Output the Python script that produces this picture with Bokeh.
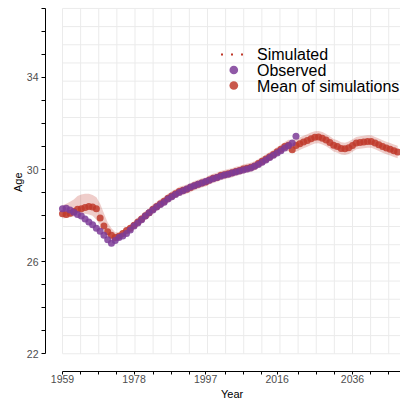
import math

from bokeh.plotting import figure
from bokeh.models import (ColumnDataSource, FixedTicker, Range1d, Label, Title)
from bokeh.embed import file_html
from bokeh.resources import INLINE

# ---- data -----------------------------------------------------------------
years_obs = list(range(1959, 2022))
observed = [
    28.30, 28.32, 28.25, 28.15, 28.05, 27.98, 27.85, 27.72, 27.60, 27.45,  # 1959-1968
    27.32, 27.15, 26.95, 26.80, 26.92, 27.05, 27.12, 27.22, 27.38, 27.55,  # 1969-1978
    27.68, 27.82, 27.98, 28.12, 28.25, 28.38, 28.48, 28.58, 28.72, 28.82,  # 1979-1988
    28.92, 29.00, 29.08, 29.16, 29.24, 29.30, 29.36, 29.42, 29.48, 29.54,  # 1989-1998
    29.60, 29.66, 29.71, 29.76, 29.80, 29.85, 29.89, 29.94, 29.98, 30.02,  # 1999-2008
    30.07, 30.14, 30.22, 30.32, 30.42, 30.52, 30.62, 30.72, 30.82, 30.94,  # 2009-2018
    31.04, 31.16, 31.45,                                                  # 2019-2021
]

years_sim = list(range(1959, 2049))
sim_mean = [
    28.08, 28.05, 28.10, 28.18, 28.28, 28.30, 28.35, 28.40, 28.38, 28.30,  # 1959-1968
    27.90, 27.55, 27.30, 27.15, 27.05, 27.10, 27.22, 27.35, 27.45, 27.58,  # 1969-1978
    27.72, 27.85, 28.00, 28.12, 28.28, 28.40, 28.52, 28.62, 28.75, 28.85,  # 1979-1988
    28.95, 29.05, 29.10, 29.15, 29.22, 29.30, 29.36, 29.42, 29.46, 29.55,  # 1989-1998
    29.62, 29.66, 29.74, 29.78, 29.82, 29.86, 29.92, 29.96, 30.02, 30.06,  # 1999-2008
    30.10, 30.16, 30.26, 30.36, 30.46, 30.56, 30.66, 30.78, 30.88, 31.00,  # 2009-2018
    31.06, 30.86, 31.05, 31.12, 31.20, 31.26, 31.34, 31.40, 31.41, 31.36,  # 2019-2028
    31.28, 31.18, 31.06, 31.00, 30.92, 30.90, 30.95, 31.05, 31.15, 31.18,  # 2029-2038
    31.20, 31.22, 31.22, 31.15, 31.08, 31.00, 30.94, 30.88, 30.82, 30.76,  # 2039-2048
]
sim_hi = [
    28.45, 28.52, 28.60, 28.70, 28.85, 28.92, 28.95, 28.95, 28.90, 28.80,  # 1959-1968
    28.52, 28.10, 27.70, 27.45, 27.28, 27.28, 27.38, 27.50, 27.62, 27.75,  # 1969-1978
    27.92, 28.05, 28.20, 28.32, 28.48, 28.60, 28.72, 28.82, 28.95, 29.05,  # 1979-1988
    29.15, 29.25, 29.30, 29.35, 29.42, 29.50, 29.56, 29.62, 29.66, 29.75,  # 1989-1998
    29.82, 29.86, 29.94, 29.98, 30.02, 30.06, 30.12, 30.16, 30.22, 30.26,  # 1999-2008
    30.30, 30.36, 30.46, 30.56, 30.66, 30.76, 30.86, 30.98, 31.08, 31.20,  # 2009-2018
    31.30, 31.28, 31.32, 31.39, 31.47, 31.53, 31.61, 31.67, 31.68, 31.63,  # 2019-2028
    31.55, 31.45, 31.33, 31.27, 31.19, 31.17, 31.22, 31.32, 31.42, 31.45,  # 2029-2038
    31.47, 31.49, 31.49, 31.42, 31.35, 31.27, 31.21, 31.15, 31.09, 31.03,  # 2039-2048
]
sim_lo = [
    27.88, 27.90, 27.93, 27.96, 28.02, 28.06, 28.08, 28.05, 28.00, 27.82,  # 1959-1968
    27.60, 27.36, 27.12, 26.95, 26.88, 26.92, 27.05, 27.18, 27.30, 27.42,  # 1969-1978
    27.52, 27.65, 27.80, 27.92, 28.08, 28.20, 28.32, 28.42, 28.55, 28.65,  # 1979-1988
    28.75, 28.85, 28.90, 28.95, 29.02, 29.10, 29.16, 29.22, 29.26, 29.35,  # 1989-1998
    29.42, 29.46, 29.54, 29.58, 29.62, 29.66, 29.72, 29.76, 29.82, 29.86,  # 1999-2008
    29.90, 29.96, 30.06, 30.16, 30.26, 30.36, 30.46, 30.58, 30.68, 30.80,  # 2009-2018
    30.80, 30.76, 30.78, 30.85, 30.93, 30.99, 31.07, 31.13, 31.14, 31.09,  # 2019-2028
    31.01, 30.91, 30.79, 30.73, 30.65, 30.63, 30.68, 30.78, 30.88, 30.91,  # 2029-2038
    30.93, 30.95, 30.95, 30.88, 30.81, 30.73, 30.67, 30.61, 30.55, 30.49,  # 2039-2048
]

x_tick_years = [1959, 1978, 1997, 2016, 2036]
y_tick_ages = [22, 26, 30, 34]
legend_labels = ["Simulated", "Observed", "Mean of simulations"]

# ---- styling ----------------------------------------------------------------
RED = "#C0392B"
PURPLE = "#7D3C98"
GRID = "#EBEBEB"
FONT = "Liberation Sans"

# visible ranges: the panel starts at 1959 / 22, axes sit slightly outside it
X0, X1 = 1954.49, 2048.75
Y0, Y1 = 21.23, 37.04
PANEL_X0, PANEL_Y0, PANEL_Y1 = 1959, 22, 37
FRAME_L, FRAME_T, FRAME_W, FRAME_H = 45, 7, 355, 364

p = figure(width=400, height=400, output_backend="svg", toolbar_location=None,
           x_range=Range1d(X0, X1), y_range=Range1d(Y0, Y1),
           min_border_left=FRAME_L, min_border_right=0,
           min_border_top=FRAME_T, min_border_bottom=400 - FRAME_T - FRAME_H)
p.outline_line_color = None
p.background_fill_color = "white"
p.border_fill_color = "white"
p.xgrid.visible = False
p.ygrid.visible = False

ppx = FRAME_W / (X1 - X0)
ppy = FRAME_H / (Y1 - Y0)


def sx(px):
    """canvas pixel column -> data x"""
    return X0 + (px - FRAME_L) / ppx


def sy(py):
    """canvas pixel row -> data y"""
    return Y1 - (py - FRAME_T) / ppy


# square panel grid (drawn only over the panel area)
x_step = (x_tick_years[-1] - x_tick_years[0]) / 16
y_step = (PANEL_Y1 - PANEL_Y0) / 19
grid_x = [PANEL_X0 + k * x_step for k in range(40) if PANEL_X0 + k * x_step <= X1]
grid_y = [PANEL_Y0 + k * y_step for k in range(20)]
p.segment(x0=grid_x, y0=PANEL_Y0, x1=grid_x, y1=PANEL_Y1,
          line_color=GRID, line_width=1)
p.segment(x0=PANEL_X0, y0=grid_y, x1=X1, y1=grid_y,
          line_color=GRID, line_width=1)

# simulation envelope, mean of simulations and observations
band = ColumnDataSource(dict(year=years_sim, lo=sim_lo, hi=sim_hi, mean=sim_mean))
obs = ColumnDataSource(dict(year=years_obs, age=observed))

p.varea(x="year", y1="lo", y2="hi", source=band,
        fill_color=RED, fill_alpha=0.25)
p.scatter("year", "mean", source=band, size=7,
          fill_color=RED, fill_alpha=0.85, line_color=None)
p.scatter("year", "age", source=obs, size=7,
          fill_color=PURPLE, fill_alpha=0.85, line_color=None)

# ---- legend (keys and labels inside the panel, top right) --------------------
p.line(x=[sx(220.5), sx(242.5)], y=[sy(54), sy(54)],
       line_color=RED, line_width=2, line_dash="2 8")
p.scatter(x=[sx(233.3)], y=[sy(69.5)], size=8.7,
          fill_color=PURPLE, fill_alpha=0.85, line_color=None)
p.scatter(x=[sx(233.3)], y=[sy(85)], size=8.7,
          fill_color=RED, fill_alpha=0.85, line_color=None)
for label, row in zip(legend_labels, [54, 70, 85.5]):
    p.add_layout(Label(x=sx(256.5), y=sy(row), text=label,
                       text_align="left", text_baseline="middle",
                       text_font=FONT, text_font_size="16px",
                       text_color="black"))

# ---- axes -------------------------------------------------------------------
xminor = [PANEL_X0 + k * x_step for k in range(40)
          if PANEL_X0 + k * x_step <= X1 and k % 4 != 0]
yminor = [a for a in range(PANEL_Y0, PANEL_Y1 + 1) if a not in y_tick_ages]

for ax in (p.xaxis[0], p.yaxis[0]):
    ax.axis_line_color = "black"
    ax.axis_line_width = 1
    ax.major_tick_line_color = "black"
    ax.minor_tick_line_color = "black"
    ax.major_tick_in = 0
    ax.minor_tick_in = 0
    ax.major_label_text_font = FONT
    ax.major_label_text_font_size = "10.5px"
    ax.major_label_text_color = "#4D4D4D"

p.xaxis[0].ticker = FixedTicker(ticks=x_tick_years, minor_ticks=xminor)
p.xaxis[0].bounds = (PANEL_X0, X1)
p.xaxis[0].major_tick_out = 3
p.xaxis[0].minor_tick_out = 3
p.xaxis[0].major_label_standoff = 0
p.yaxis[0].ticker = FixedTicker(ticks=y_tick_ages, minor_ticks=yminor)
p.yaxis[0].bounds = (PANEL_Y0, PANEL_Y1)
p.yaxis[0].major_tick_out = 4
p.yaxis[0].minor_tick_out = 4
p.yaxis[0].major_label_standoff = 3

# axis titles, centred on the panel rather than on the frame
p.add_layout(Title(text="Year", align="left", offset=175.5, standoff=0,
                   text_font=FONT, text_font_size="11px",
                   text_font_style="normal", text_color="black"), "below")
p.add_layout(Title(text="Age", align="left", offset=179.5, standoff=0,
                   text_font=FONT, text_font_size="11px",
                   text_font_style="normal", text_color="black"), "left")

open("out.html", "w").write(file_html(p, INLINE))
